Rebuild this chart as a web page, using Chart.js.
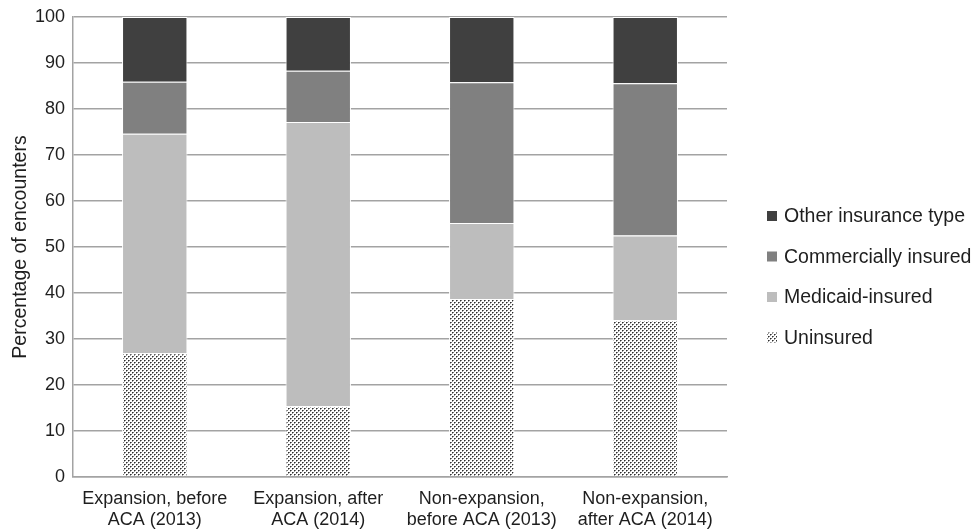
<!DOCTYPE html>
<html>
<head>
<meta charset="utf-8">
<script src="https://cdn.jsdelivr.net/npm/chart.js@4.4.0/dist/chart.umd.min.js"></script>
<style>
  html, body { margin: 0; padding: 0; background: #ffffff; }
  canvas { display: block; }
</style>
</head>
<body>
<canvas id="chart" width="979" height="531"></canvas>
<script>
// Encounter payer mix by state expansion status, before and after the ACA
const categories = [
  ['Expansion, before', 'ACA (2013)'],
  ['Expansion, after', 'ACA (2014)'],
  ['Non-expansion,', 'before ACA (2013)'],
  ['Non-expansion,', 'after ACA (2014)']
];
const uninsured           = [26.9, 15.4, 38.7, 34.1];
const medicaidInsured     = [47.7, 61.8, 16.5, 18.4];
const commerciallyInsured = [11.3, 11.1, 30.6, 33.1];
const otherInsurance      = [14.1, 11.7, 14.2, 14.4];
const yTicks = [0, 10, 20, 30, 40, 50, 60, 70, 80, 90, 100];

const TEXT = '#1e1e1e';
const GRID = '#a3a3a3';
Chart.defaults.font.family = '"Liberation Sans", Arial, Helvetica, sans-serif';

// Fine diagonal stipple tile used for the uninsured segments
function stipple() {
  const t = document.createElement('canvas');
  t.width = 4; t.height = 4;
  const c = t.getContext('2d');
  c.fillStyle = '#ffffff';
  c.fillRect(0, 0, 4, 4);
  const dot = (x, y) => {
    c.fillStyle = '#2e2e2e'; c.fillRect(x, y, 1, 1);
    c.fillStyle = '#7a7a7a'; c.fillRect(x + 1, y, 1, 1);
    c.fillStyle = '#9a9a9a'; c.fillRect(x, y + 1, 1, 1);
  };
  dot(0, 0);
  dot(2, 2);
  return c.createPattern(t, 'repeat');
}
const dots = stipple();

// Legend listed top-down in reverse stacking order, placed to the right of the plot
const sideLegend = {
  id: 'sideLegend',
  afterDraw(chart, args, opts) {
    const ctx = chart.ctx;
    const items = chart.data.datasets.slice().reverse();
    ctx.save();
    ctx.font = '19.5px "Liberation Sans", Arial, Helvetica, sans-serif';
    ctx.textBaseline = 'middle';
    ctx.textAlign = 'left';
    items.forEach((ds, i) => {
      const y = opts.top + i * opts.step;
      ctx.fillStyle = ds.backgroundColor;
      ctx.fillRect(opts.x, y - 5, 10, 10);
      ctx.fillStyle = TEXT;
      ctx.fillText(ds.label, opts.x + 17, y + 1);
    });
    ctx.restore();
  }
};

const seg = { borderColor: '#ffffff', borderWidth: 1, categoryPercentage: 1, barPercentage: 0.4 };

new Chart(document.getElementById('chart'), {
  type: 'bar',
  data: {
    labels: categories,
    datasets: [
      Object.assign({ label: 'Uninsured', data: uninsured, backgroundColor: dots }, seg),
      Object.assign({ label: 'Medicaid-insured', data: medicaidInsured, backgroundColor: '#bdbdbd' }, seg),
      Object.assign({ label: 'Commercially insured', data: commerciallyInsured, backgroundColor: '#808080' }, seg),
      Object.assign({ label: 'Other insurance type', data: otherInsurance, backgroundColor: '#404040' }, seg)
    ]
  },
  options: {
    responsive: false,
    animation: false,
    layout: { padding: { top: 17, right: 252, left: 0, bottom: 0 } },
    plugins: {
      legend: { display: false },
      tooltip: { enabled: false },
      sideLegend: { x: 767, top: 216, step: 40.5 }
    },
    scales: {
      x: {
        stacked: true,
        grid: { display: false, drawTicks: false },
        border: { color: GRID, width: 1.5 },
        ticks: { padding: 12, color: TEXT, font: { size: 18, lineHeight: 1.15 }, maxRotation: 0, autoSkip: false },
        afterFit(s) { s.height = 54; }
      },
      y: {
        stacked: true,
        min: 0,
        max: 100,
        afterBuildTicks(s) { s.ticks = yTicks.map(v => ({ value: v })); },
        grid: { color: GRID, lineWidth: 1.5, drawTicks: false },
        border: { color: GRID, width: 1.5 },
        ticks: { padding: 8, color: TEXT, font: { size: 18 } },
        title: {
          display: true,
          text: 'Percentage of encounters',
          color: TEXT,
          font: { size: 19.5 },
          padding: { top: 9, bottom: 0 }
        },
        afterFit(s) { s.width = 73; s.paddingTop = 0; }
      }
    }
  },
  plugins: [sideLegend]
});
</script>
</body>
</html>
